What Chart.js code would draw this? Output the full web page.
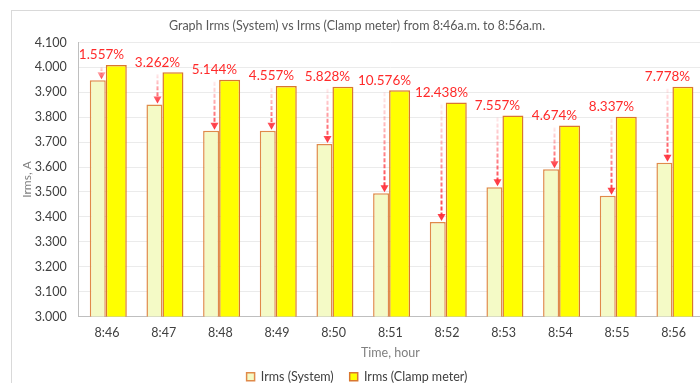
<!DOCTYPE html>
<html><head><meta charset="utf-8">
<script src="https://cdn.jsdelivr.net/npm/chart.js@4"></script>
<style>
html,body{margin:0;padding:0;overflow:hidden;background:#fff;width:700px;height:383px}
#wrap{position:absolute;left:0;top:0;width:710px;height:383px}
</style></head>
<body><div id="wrap"><canvas id="c" width="710" height="383"></canvas></div>
<script>
const categories = ['8:46','8:47','8:48','8:49','8:50','8:51','8:52','8:53','8:54','8:55','8:56'];
const irmsSystem = [3.948,3.851,3.746,3.746,3.693,3.495,3.379,3.519,3.591,3.485,3.617];
const irmsClamp  = [4.010,3.981,3.950,3.925,3.922,3.908,3.859,3.807,3.767,3.802,3.922];
const errorLabels = ['1.557%','3.262%','5.144%','4.557%','5.828%','10.576%','12.438%','7.557%','4.674%','8.337%','7.778%'];
const chartTitle = 'Graph Irms (System) vs Irms (Clamp meter) from 8:46a.m. to 8:56a.m.';
const xTitle = 'Time, hour';
const yTitle = 'Irms, A';
const seriesNames = ['Irms (System)','Irms (Clamp meter)'];

const FONT = 'Lato, "Liberation Sans", sans-serif';

const framePlugin = {
  id: 'frame',
  beforeDraw(chart) {
    const ctx = chart.ctx;
    ctx.save();
    ctx.fillStyle = '#fff';
    ctx.fillRect(0, 0, chart.width, chart.height);
    ctx.strokeStyle = '#d9d9d9';
    ctx.lineWidth = 1;
    ctx.strokeRect(11.5, 10.5, 697, 390);
    ctx.restore();
  }
};

const arrowPlugin = {
  id: 'arrows',
  afterDatasetsDraw(chart) {
    const ctx = chart.ctx;
    const sys = chart.getDatasetMeta(0).data;
    const clp = chart.getDatasetMeta(1).data;
    ctx.save();
    sys.forEach((bar, i) => {
      const x = Math.round(bar.x + 3) + 0.5;
      const labelY = clp[i].y - 10;
      const yTop = labelY + 12;
      const yEnd = bar.y - 1;
      const g = ctx.createLinearGradient(0, yTop, 0, yEnd);
      g.addColorStop(0, 'rgba(255,90,100,0.12)');
      g.addColorStop(1, 'rgba(255,40,50,0.95)');
      ctx.strokeStyle = g;
      ctx.fillStyle = g;
      ctx.lineWidth = 2;
      ctx.setLineDash([4, 2]);
      ctx.beginPath();
      ctx.moveTo(x, yTop);
      ctx.lineTo(x, yEnd - 5);
      ctx.stroke();
      ctx.setLineDash([]);
      ctx.beginPath();
      ctx.moveTo(x - 4, yEnd - 7);
      ctx.lineTo(x + 4, yEnd - 7);
      ctx.lineTo(x, yEnd);
      ctx.closePath();
      ctx.fill();
      ctx.fillStyle = '#ff2a2a';
      ctx.font = '13.5px ' + FONT;
      ctx.textAlign = 'center';
      ctx.textBaseline = 'middle';
      ctx.fillText(errorLabels[i], x, labelY);
    });
    ctx.restore();
  }
};

new Chart(document.getElementById('c'), {
  type: 'bar',
  data: {
    labels: categories,
    datasets: [
      {
        label: seriesNames[0],
        data: irmsSystem,
        backgroundColor: '#f4fac6',
        borderColor: '#e08a4a',
        borderWidth: 1.5,
        barPercentage: 0.865,
        categoryPercentage: 0.653
      },
      {
        label: seriesNames[1],
        data: irmsClamp,
        backgroundColor: '#ffff00',
        borderColor: '#d9772f',
        borderWidth: 1.5,
        barPercentage: 1.135,
        categoryPercentage: 0.653
      }
    ]
  },
  options: {
    responsive: false,
    animation: false,
    devicePixelRatio: 1,
    layout: { padding: { left: 12, top: 11, right: 8, bottom: -10 } },
    plugins: {
      title: {
        display: true,
        text: chartTitle,
        color: '#595959',
        font: { family: FONT, size: 12.5, weight: 'normal' },
        padding: { top: 7.5, bottom: 9 }
      },
      legend: {
        position: 'bottom',
        labels: {
          color: '#404040',
          font: { family: FONT, size: 12.5 },
          boxWidth: 8,
          boxHeight: 8,
          padding: 16
        }
      },
      tooltip: { enabled: false }
    },
    scales: {
      x: {
        grid: { display: false, drawTicks: false },
        border: { display: true, color: '#bfbfbf', width: 1 },
        ticks: { color: '#404040', font: { family: FONT, size: 12.5 }, padding: 9, maxRotation: 0 },
        title: { display: true, text: xTitle, color: '#808080', font: { family: FONT, size: 12.5 }, padding: { top: 4, bottom: -6 } },
        afterFit: s => { s.height -= 8; }
      },
      y: {
        min: 3.0,
        max: 4.1,
        grid: { color: '#ebebeb', drawTicks: false },
        border: { display: true, color: '#bfbfbf', width: 1 },
        ticks: {
          stepSize: 0.1,
          color: '#404040',
          font: { family: FONT, size: 12.5 },
          padding: 12,
          callback: v => Number(v).toFixed(3)
        },
        title: { display: true, text: yTitle, color: '#808080', font: { family: FONT, size: 12 }, padding: { top: 8, bottom: 4 } },
        afterFit: s => { s.width = 66.7; }
      }
    }
  },
  plugins: [framePlugin, arrowPlugin]
});
</script>
</body></html>
